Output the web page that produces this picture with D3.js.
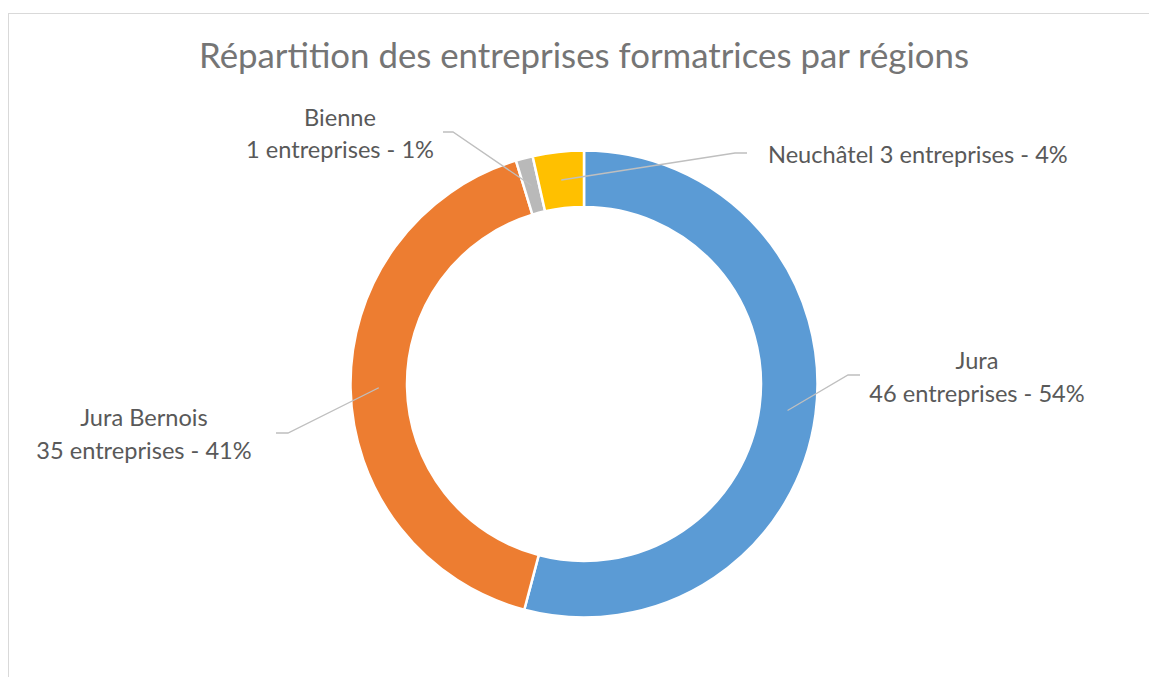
<!DOCTYPE html>
<html>
<head>
<meta charset="utf-8">
<script src="https://cdn.jsdelivr.net/npm/d3@7"></script>
<style>
  body { margin: 0; background: #fff; }
  text { font-family: Lato, "Open Sans", sans-serif; }
</style>
</head>
<body>
<svg id="chart" width="1149" height="677"></svg>
<script>
// Data
const regions = ['Jura', 'Jura Bernois', 'Bienne', 'Neuchâtel'];
const counts = [46, 35, 1, 3];
const percents = [54, 41, 1, 4];
const colors = ['#5b9bd5', '#ed7d31', '#b9b9b9', '#ffc000'];

const svg = d3.select('#chart');
const cx = 584, cy = 384;
const outerR = 233.5, innerR = 177;

// chart area frame (only left/top visible in the shot)
svg.append('rect')
    .attr('x', 8.5).attr('y', 13.5)
    .attr('width', 1200).attr('height', 700)
    .attr('fill', 'none')
    .attr('stroke', '#d9d9d9')
    .attr('stroke-width', 1);

svg.append('text')
    .attr('x', cx).attr('y', 68)
    .attr('text-anchor', 'middle')
    .attr('font-size', 34.8)
    .attr('fill', '#757575')
    .text('Répartition des entreprises formatrices par régions');

const data = regions.map((r, i) => ({ region: r, count: counts[i], pct: percents[i], color: colors[i] }));

const pie = d3.pie().sort(null).value(d => d.count);
const arc = d3.arc().innerRadius(innerR).outerRadius(outerR);
const mid = d3.arc().innerRadius((innerR + outerR) / 2).outerRadius((innerR + outerR) / 2);

const g = svg.append('g').attr('transform', `translate(${cx},${cy})`);
const arcs = pie(data);

g.selectAll('path.slice')
  .data(arcs)
  .enter().append('path')
    .attr('class', 'slice')
    .attr('d', arc)
    .attr('fill', d => d.data.color)
    .attr('stroke', '#fff')
    .attr('stroke-width', 2.5);

// label layout: elbow/end of leader line and text anchor (absolute coords)
const labelLayout = {
  'Jura':         { elbow: [848, 375], end: [860, 375], tx: 977, ty: [369, 402], anchor: 'middle' },
  'Jura Bernois': { elbow: [288, 433], end: [276, 433], tx: 144, ty: [426, 459], anchor: 'middle' },
  'Bienne':       { elbow: [453, 132], end: [443, 132], tx: 340, ty: [126, 158], anchor: 'middle' },
  'Neuchâtel':    { elbow: [735, 153], end: [747, 153], tx: 768, ty: [163], anchor: 'start', oneLine: true }
};

const line = d3.line();
arcs.forEach(a => {
  const L = labelLayout[a.data.region];
  const c = mid.centroid(a);
  const start = [cx + c[0], cy + c[1]];
  svg.append('path')
      .attr('d', line([start, L.elbow, L.end]))
      .attr('fill', 'none')
      .attr('stroke', '#bfbfbf')
      .attr('stroke-width', 1.3);

  const lines = L.oneLine
    ? [`${a.data.region} ${a.data.count} entreprises - ${a.data.pct}%`]
    : [a.data.region, `${a.data.count} entreprises - ${a.data.pct}%`];
  lines.forEach((t, k) => {
    svg.append('text')
        .attr('x', L.tx).attr('y', L.ty[k])
        .attr('text-anchor', L.anchor)
        .attr('font-size', 23.6)
        .attr('fill', '#595959')
        .text(t);
  });
});
</script>
</body>
</html>
